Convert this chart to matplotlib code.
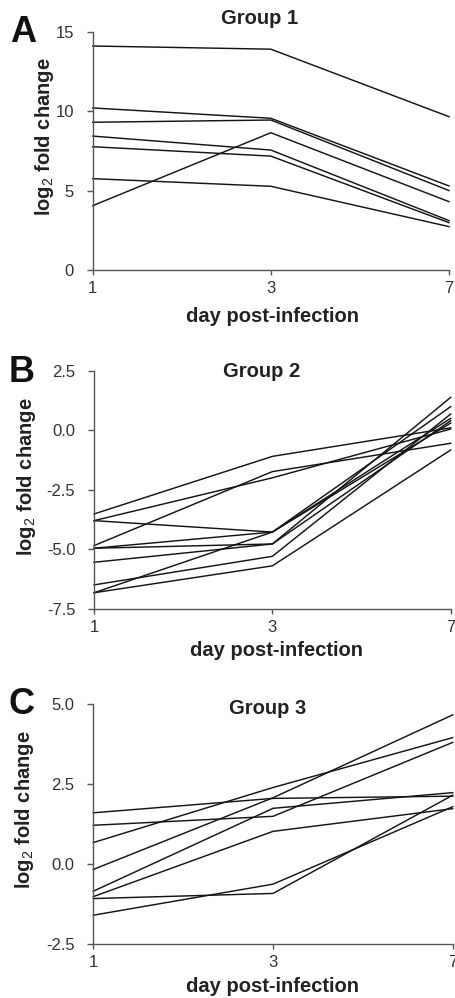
import matplotlib
matplotlib.use("Agg")
import matplotlib.pyplot as plt

plt.rcParams['font.family'] = ['Liberation Sans', 'DejaVu Sans']
plt.rcParams['mathtext.fontset'] = 'custom'
plt.rcParams['mathtext.rm'] = 'Liberation Sans'
plt.rcParams['mathtext.default'] = 'rm'

days = ["1", "3", "7"]

group1 = [
    [14.1, 13.9, 9.65],
    [10.2, 9.55, 5.29],
    [9.3, 9.44, 5.0],
    [4.05, 8.64, 4.3],
    [8.43, 7.55, 3.11],
    [7.76, 7.17, 2.98],
    [5.75, 5.27, 2.73],
]

group2 = [
    [-3.52, -1.10, 0.10],
    [-3.80, -2.00, 0.05],
    [-3.80, -4.28, 0.99],
    [-4.85, -1.74, -0.55],
    [-4.96, -4.28, 0.50],
    [-4.96, -4.78, 1.38],
    [-5.55, -4.78, 0.40],
    [-6.50, -5.30, 0.68],
    [-6.83, -4.28, 0.30],
    [-6.83, -5.70, -0.83],
]

group3 = [
    [1.60, 2.05, 2.12],
    [1.21, 1.49, 3.80],
    [0.67, 2.39, 3.95],
    [-0.17, 2.07, 4.66],
    [-0.85, 1.74, 2.23],
    [-1.02, 1.02, 1.73],
    [-1.08, -0.92, 2.15],
    [-1.60, -0.63, 1.79],
]

yticks1 = [0, 5, 10, 15]
yticks2 = [-7.5, -5.0, -2.5, 0.0, 2.5]
yticks3 = [-2.5, 0.0, 2.5, 5.0]

W, H = 455, 998
fig = plt.figure(figsize=(W / 100, H / 100), dpi=100)

def px_axes(x0, x1, ytop, ybot):
    return fig.add_axes([x0 / W, 1 - ybot / H, (x1 - x0) / W, (ybot - ytop) / H])

def ftext(x, y, s, **kw):
    fig.text(x / W, 1 - y / H, s, **kw)

panels = [
    dict(data=group1, yticks=yticks1, fmt="{:g}", box=(92.7, 449, 31.7, 270),
         letter="A", lpos=(23, 33), title="Group 1", tpos=(260, 18),
         xl=(273, 317), yl=(45, 137)),
    dict(data=group2, yticks=yticks2, fmt="{:.1f}", box=(94, 450.7, 370.7, 608.7),
         letter="B", lpos=(22, 373), title="Group 2", tpos=(262, 372),
         xl=(277, 650), yl=(27, 477)),
    dict(data=group3, yticks=yticks3, fmt="{:.1f}", box=(93.3, 452.7, 704, 944),
         letter="C", lpos=(22, 704), title="Group 3", tpos=(268, 708),
         xl=(272, 986), yl=(25, 810)),
]

spine_col = '#555555'
tick_col = '#333333'
line_col = '#151515'

for p in panels:
    ax = px_axes(*p['box'])
    xs = list(range(len(days)))
    for series in p['data']:
        ax.plot(xs, series, color=line_col, lw=1.05, clip_on=False,
                solid_joinstyle='miter')
    ax.set_xlim(0, len(days) - 1)
    ax.set_ylim(p['yticks'][0], p['yticks'][-1])
    ax.set_xticks(xs)
    ax.set_xticklabels(days)
    ax.set_yticks(p['yticks'])
    ax.set_yticklabels([p['fmt'].format(v) for v in p['yticks']])
    for s in ['top', 'right']:
        ax.spines[s].set_visible(False)
    for s in ['left', 'bottom']:
        ax.spines[s].set_color(spine_col)
        ax.spines[s].set_linewidth(1.0)
    ax.tick_params(axis='y', direction='out', length=4.5, width=1.0, color=spine_col,
                   labelsize=12, labelcolor=tick_col, pad=9)
    ax.tick_params(axis='x', direction='out', length=3.5, width=1.0, color=spine_col,
                   labelsize=12, labelcolor=tick_col, pad=4.5)
    ax.patch.set_alpha(0)

    ftext(*p['lpos'], p['letter'], fontsize=26, fontweight='bold',
          ha='center', va='center', color='#111111')
    ftext(*p['tpos'], p['title'], fontsize=14.5, fontweight='bold',
          ha='center', va='center', color='#222222')
    ftext(*p['xl'], "day post-infection", fontsize=14.5, fontweight='bold',
          ha='center', va='center', color='#222222')
    ftext(*p['yl'], r"log$_2$ fold change", fontsize=14.5, fontweight='bold',
          ha='center', va='center', rotation=90, color='#222222')

fig.savefig("out.png", dpi=100)
